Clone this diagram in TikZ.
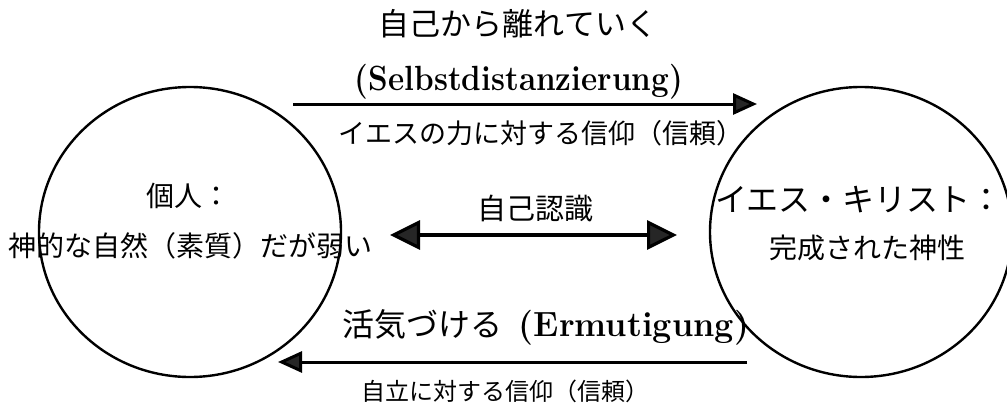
\documentclass[tikz,border=0pt]{standalone}
\usepackage{fontspec}
\newfontfamily\jp{Noto Sans CJK JP}
\usetikzlibrary{arrows.meta,shapes.geometric}
\tikzset{
  ring/.style={draw, ellipse, line width=2.4pt, minimum width=302pt, minimum height=290pt, inner sep=0pt},
  lbl/.style={inner sep=0pt, anchor=center},
  flow/.style={line width=3pt, -{Triangle[length=24pt,width=21pt,fill=black!85]}},
  both/.style={line width=3.2pt, {Triangle[length=30pt,width=29pt,fill=black!85]}-{Triangle[length=30pt,width=29pt,fill=black!85]}},
}
\newcommand{\jf}[1]{\jp\fontsize{#1}{#1}\selectfont}
\newcommand{\lf}[1]{\rmfamily\bfseries\fontsize{#1}{#1}\selectfont}
\begin{document}
\begin{tikzpicture}[x=1pt,y=-1pt]
\useasboundingbox (0,0) rectangle (1007,405);
\node[ring] (indiv) at (190,232) {};
\node[ring] (jesus) at (861,232) {};

\node[lbl] (t1) at (518,24) {\jf{31}自己から離れていく};
\node[lbl] (t2) at (519,82) {\resizebox*{328pt}{35pt}{\lf{26}(Selbstdistanzierung)}};
\node[lbl] (t3) at (541,133) {\jf{27}イエスの力に対する信仰（信頼）};

\node[lbl] (i1) at (188,196) {\jf{28}個人：};
\node[lbl] (i2) at (191,246) {\jf{28}神的な自然（素質）だが弱い};

\node[lbl] (m1) at (535,209) {\jf{29}自己認識};

\node[lbl] (j1) at (859,200) {\jf{32}イエス・キリスト：};
\node[lbl] (j2) at (867,248) {\jf{28}完成された神性};

\node[lbl] (b1) at (546,327) {\jf{32}活気づける\hspace{16pt}\resizebox*{230pt}{35pt}{\lf{26}(Ermutigung)}};
\node[lbl] (b2) at (505,391) {\jf{24}自立に対する信仰（信頼）};

\coordinate (a1) at (293,104);
\coordinate (a2) at (757,104);
\coordinate (c1) at (390,235);
\coordinate (c2) at (677,235);
\coordinate (d1) at (747,362);
\coordinate (d2) at (278,362);

\draw[flow] (a1) -- (a2);
\draw[both] (c1) -- (c2);
\draw[flow] (d1) -- (d2);
\end{tikzpicture}
\end{document}
